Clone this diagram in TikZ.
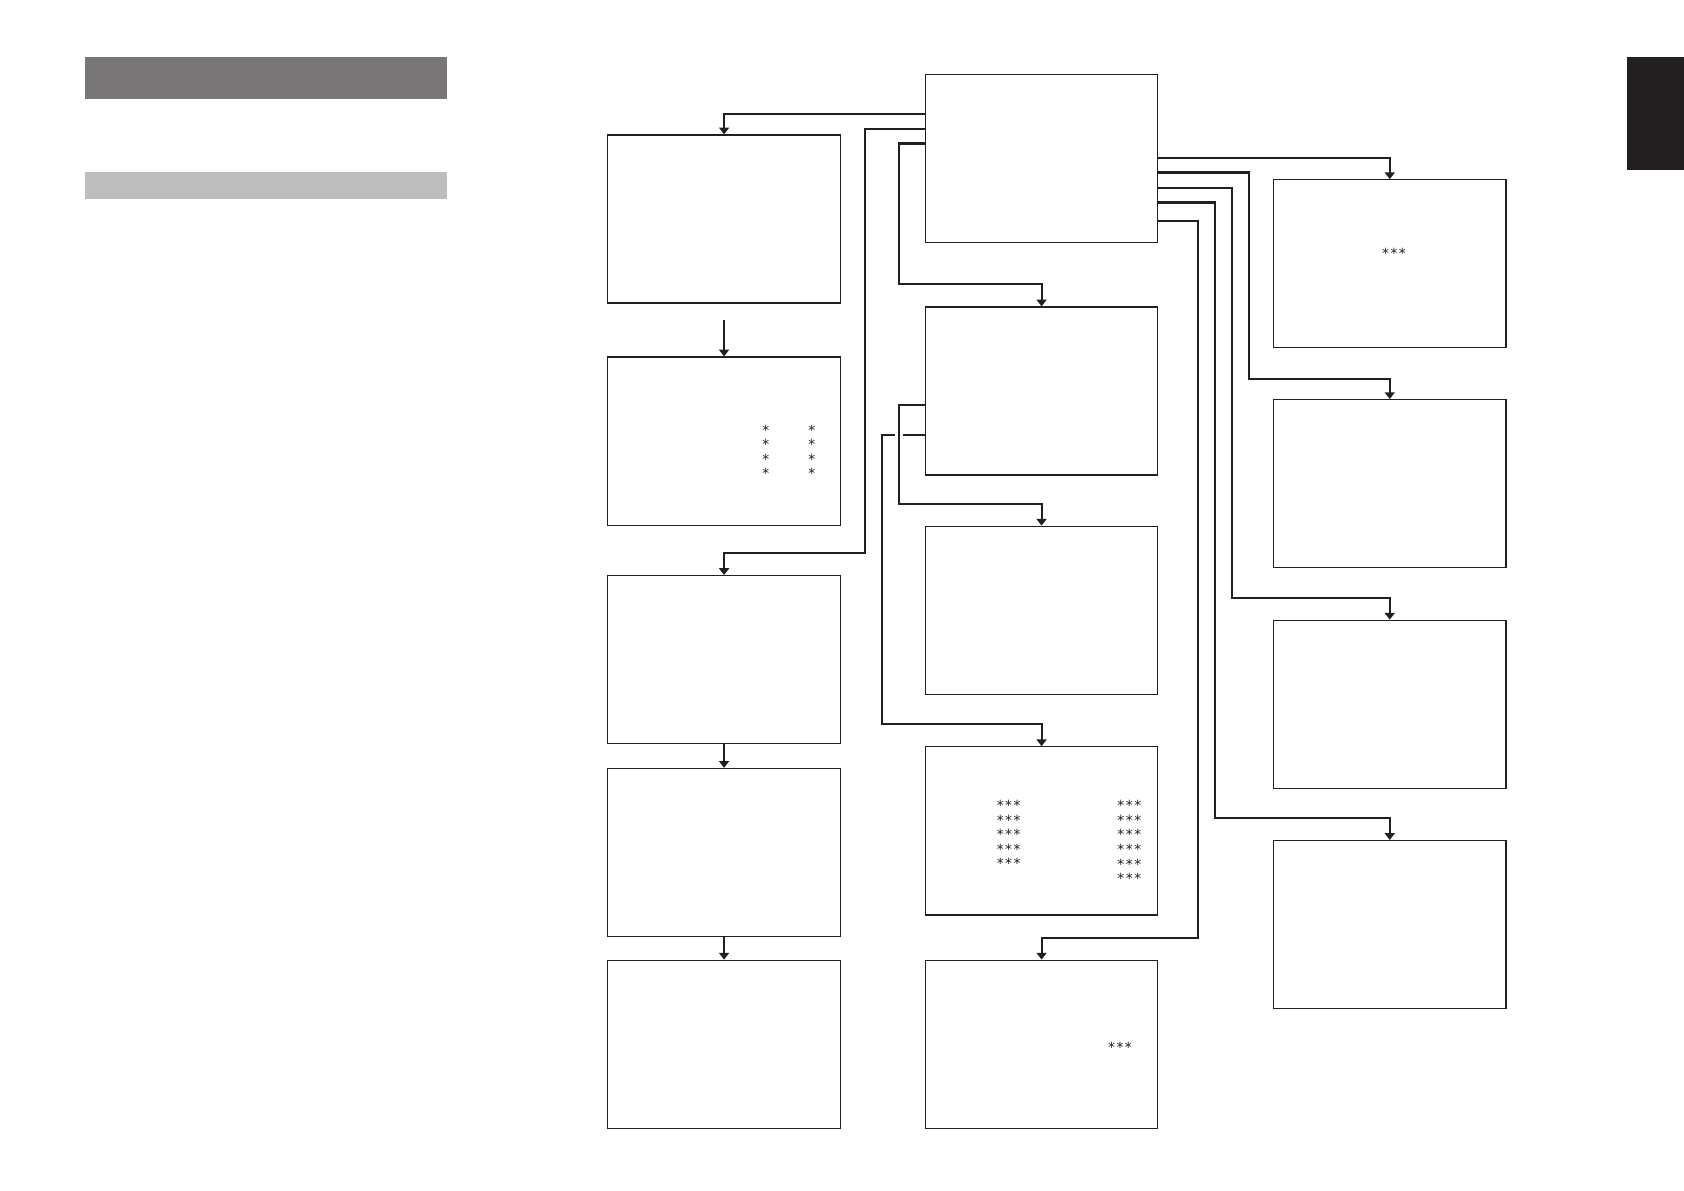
\documentclass[tikz,border=0pt]{standalone}
\usepackage{fontspec}
\newfontfamily\starfont{DejaVu Sans Mono}
\usetikzlibrary{arrows.meta}
\definecolor{BarDark}{HTML}{787676}
\definecolor{BarLight}{HTML}{BEBEBE}
\definecolor{Ink}{HTML}{231F20}

\begin{document}
\begin{tikzpicture}[
  box/.style={draw=Ink,line width=0.6pt,minimum width=4.1cm,minimum height=2.965cm,inner sep=0pt},
  stars/.style={inner sep=0pt,align=center,text=Ink,font=\starfont\fontsize{7}{7.3}\selectfont},
  arrow/.style={-{Triangle[width=5pt,length=3.4pt]},line width=1.1pt,draw=Ink}
]
\useasboundingbox (0,0) rectangle (29.7,-21.0);
% header bars and page tab
\fill[BarDark] (1.50,-1.006) rectangle (7.88,-1.741);
\fill[BarLight] (1.50,-3.027) rectangle (7.88,-3.515);
\fill[Ink] (28.69,-1.006) rectangle (29.7,-2.993);

\node[box] (main) at (18.37,-2.792) {};
\node[box] (l1) at (12.77,-3.862) {};
\node[box] (l2) at (12.77,-7.779) {};
\node[box] (l3) at (12.77,-11.634) {};
\node[box] (l4) at (12.77,-15.035) {};
\node[box] (l5) at (12.77,-18.418) {};
\node[box] (m1) at (18.37,-6.896) {};
\node[box] (m2) at (18.37,-10.763) {};
\node[box] (m3) at (18.37,-14.653) {};
\node[box] (m4) at (18.37,-18.416) {};
\node[box] (r1) at (24.51,-4.653) {};
\node[box] (r2) at (24.51,-8.531) {};
\node[box] (r3) at (24.51,-12.421) {};
\node[box] (r4) at (24.51,-16.307) {};

\node[stars] (l2st1) at (13.505,-7.97) {*\\*\\*\\*};
\node[stars] (l2st2) at (14.316,-7.97) {*\\*\\*\\*};
\node[stars] (m3st1) at (17.789,-14.72) {***\\***\\***\\***\\***};
\node[stars] (m3st2) at (19.917,-14.85) {***\\***\\***\\***\\***\\***};
\node[stars] (r1st) at (24.586,-4.47) {***};
\node[stars] (m4st) at (19.752,-18.47) {***};

% left side of main
\draw[arrow] ([yshift=0.78cm]main.west) -| (l1);
\draw[arrow] ([yshift=0.52cm]main.west) -- ++(-1.05,0) |- ([yshift=0.39cm]l3.north) -- (l3);
\draw[arrow] ([yshift=0.26cm]main.west) -- ++(-0.45,0) |- ([yshift=0.39cm]m1.north) -- (m1);
\coordinate (l2in) at ([yshift=0.65cm]l2.north);
\draw[arrow] (l2in) -- (l2);
\draw[arrow] (l3) -- (l4);
\draw[arrow] (l4) -- (l5);

% from m1, with a break where the lines cross
\draw[arrow] ([yshift=-0.77cm]m1.west) -- ++(-0.75,0) |- ([yshift=0.39cm]m3.north) -- (m3);
\draw[white,line width=4pt] ([xshift=-0.45cm,yshift=-0.62cm]m1.west) -- ++(0,-0.3);
\draw[arrow] ([yshift=-0.25cm]m1.west) -- ++(-0.45,0) |- ([yshift=0.38cm]m2.north) -- (m2);

% right side of main
\draw[arrow] (main.east) -| (r1);
\draw[arrow] ([yshift=-0.25cm]main.east) -- ++(1.6,0) |- ([yshift=0.36cm]r2.north) -- (r2);
\draw[arrow] ([yshift=-0.52cm]main.east) -- ++(1.3,0) |- ([yshift=0.38cm]r3.north) -- (r3);
\draw[arrow] ([yshift=-0.78cm]main.east) -- ++(1.0,0) |- ([yshift=0.39cm]r4.north) -- (r4);
\draw[arrow] ([yshift=-1.11cm]main.east) -- ++(0.7,0) |- ([yshift=0.38cm]m4.north) -- (m4);
\end{tikzpicture}
\end{document}
